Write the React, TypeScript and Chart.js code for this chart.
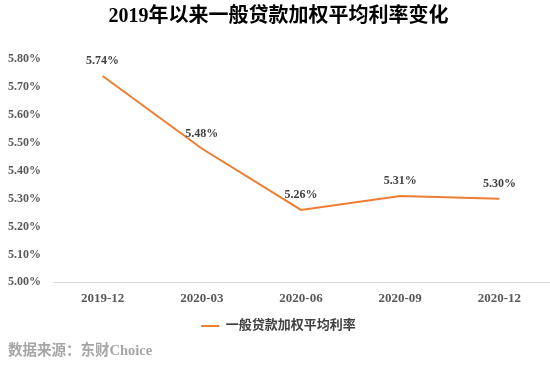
import React, { useEffect, useRef } from "react";
import { Chart, registerables } from "chart.js";

Chart.register(...registerables);

const categories: string[] = ["2019-12", "2020-03", "2020-06", "2020-09", "2020-12"];
const rates: number[] = [5.74, 5.48, 5.26, 5.31, 5.3];
const seriesName = "一般贷款加权平均利率";
const titleText = "2019年以来一般贷款加权平均利率变化";
const sourceText = "数据来源：东财Choice";
const yMin = 5.0;
const yMax = 5.8;
const yStep = 0.1;

const FAMILY = '"Liberation Serif", "DejaVu Serif", "Noto Sans CJK SC", serif';

const valueLabels = {
  id: "valueLabels",
  afterDatasetsDraw(chart: any) {
    const ctx = chart.ctx;
    const meta = chart.getDatasetMeta(0);
    ctx.save();
    ctx.font = `bold 12px ${FAMILY}`;
    ctx.fillStyle = "#404040";
    ctx.textAlign = "center";
    ctx.textBaseline = "middle";
    meta.data.forEach((pt: any, i: number) => {
      ctx.fillText(rates[i].toFixed(2) + "%", pt.x, pt.y - 15);
    });
    ctx.restore();
  },
};

const whiteBg = {
  id: "whiteBg",
  beforeDraw(chart: any) {
    const ctx = chart.ctx;
    ctx.save();
    ctx.fillStyle = "#ffffff";
    ctx.fillRect(0, 0, chart.width, chart.height);
    ctx.restore();
  },
};

export default function App() {
  const ref = useRef<HTMLCanvasElement | null>(null);
  useEffect(() => {
    if (!ref.current) return;
    const chart = new Chart(ref.current, {
      type: "line",
      data: {
        labels: categories,
        datasets: [
          {
            label: seriesName,
            data: rates,
            borderColor: "#ED7D31",
            backgroundColor: "#ED7D31",
            borderWidth: 2,
            pointRadius: 0,
            pointHoverRadius: 0,
            pointStyle: "line",
            tension: 0,
            fill: false,
          },
        ],
      },
      options: {
        animation: false,
        responsive: true,
        maintainAspectRatio: false,
        layout: { padding: { left: 8, right: 1, top: 0, bottom: 0 } },
        plugins: {
          tooltip: { enabled: false },
          title: {
            display: true,
            text: titleText,
            color: "#000000",
            font: { family: FAMILY, size: 20, weight: "bold", lineHeight: 1.2 },
            padding: { top: 5, bottom: 30.3 },
          },
          subtitle: {
            display: true,
            position: "bottom",
            align: "start",
            text: sourceText,
            color: "#a6a6a6",
            font: { family: FAMILY, size: 14.5, weight: "bold", lineHeight: 1.2 },
            padding: { top: 0, bottom: 13 },
          },
          legend: {
            display: true,
            position: "bottom",
            labels: {
              usePointStyle: true,
              pointStyleWidth: 18,
              color: "#404040",
              font: { family: FAMILY, size: 13, weight: "bold" },
              padding: 10,
            },
          },
        },
        scales: {
          x: {
            type: "category",
            offset: true,
            grid: { display: false, drawTicks: false },
            border: { display: true, color: "#d9d9d9", width: 1 },
            ticks: {
              color: "#595959",
              font: { family: FAMILY, size: 13, weight: "bold" },
              padding: 8,
              maxRotation: 0,
              autoSkip: false,
            },
            afterFit(scale: any) {
              scale.height = 27.2;
            },
          },
          y: {
            min: yMin,
            max: yMax,
            grid: { display: false, drawTicks: false },
            border: { display: false },
            ticks: {
              stepSize: yStep,
              color: "#595959",
              font: { family: FAMILY, size: 12, weight: "bold" },
              padding: 12,
              callback: (v: any) => Number(v).toFixed(2) + "%",
            },
            afterFit(scale: any) {
              scale.width = 45;
            },
          },
        },
      },
      plugins: [whiteBg, valueLabels],
    });
    return () => chart.destroy();
  }, []);
  return (
    <div style={{ position: "absolute", left: 0, top: 0, width: 550, height: 373, background: "#fff" }}>
      <canvas ref={ref} />
    </div>
  );
}
